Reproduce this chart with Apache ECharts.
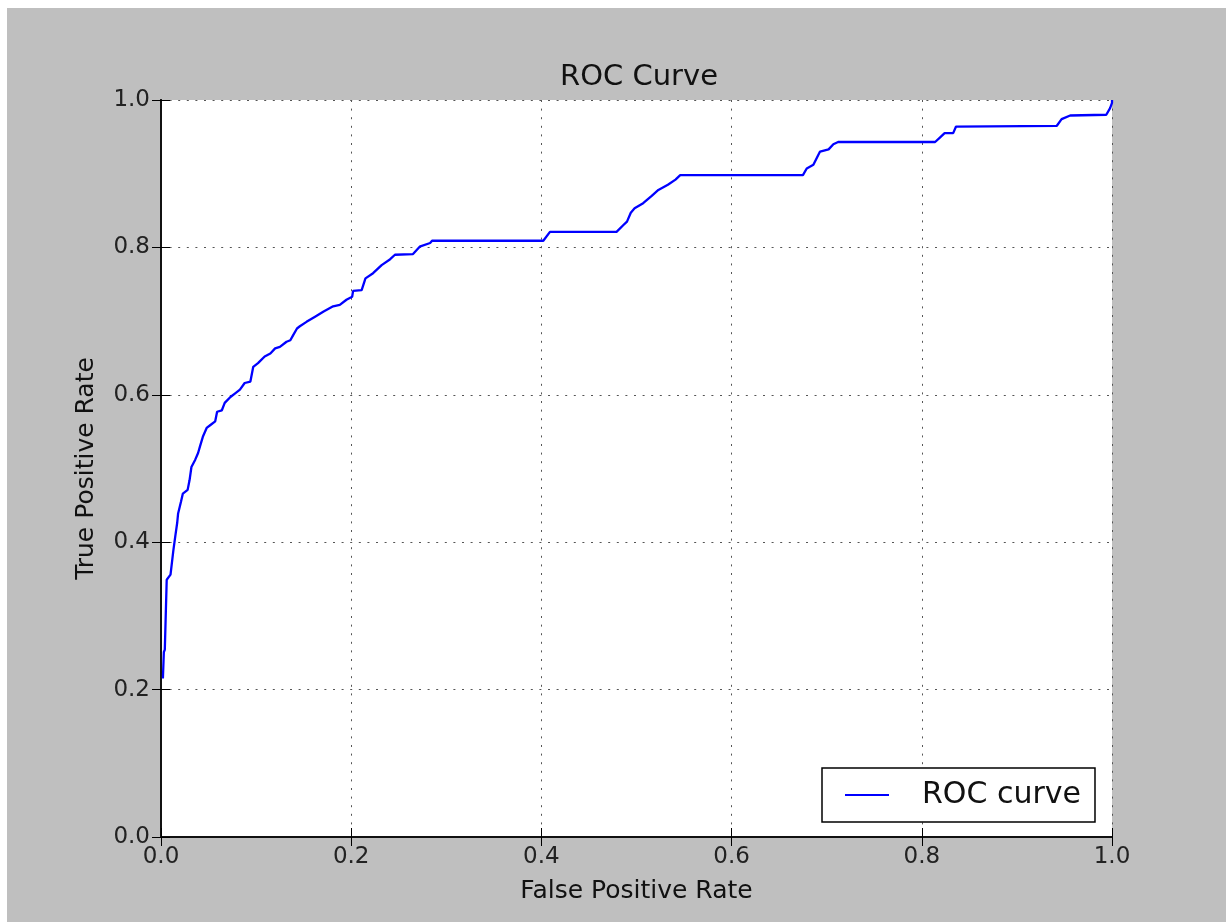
<!DOCTYPE html>
<html>
<head>
<meta charset="utf-8">
<script src="https://cdn.jsdelivr.net/npm/echarts@6/dist/echarts.min.js"></script>
<style>
  html, body { margin: 0; padding: 0; background: #fff; }
  #chart {
    width: 1226px; height: 922px;
    background: linear-gradient(#bfbfbf, #bfbfbf) 7px 8px / 100% 100% no-repeat, #fff;
  }
</style>
</head>
<body>
<div id="chart"></div>
<script>
// False positive rate (x) and true positive rate (y) of the ROC curve
const fpr = [0.002, 0.003, 0.004, 0.006, 0.010, 0.011, 0.013, 0.015, 0.017, 0.018,
  0.021, 0.023, 0.028, 0.030, 0.032, 0.036, 0.039, 0.041, 0.044, 0.048,
  0.052, 0.057, 0.059, 0.064, 0.067, 0.073, 0.078, 0.083, 0.088, 0.094,
  0.097, 0.102, 0.109, 0.115, 0.120, 0.125, 0.132, 0.136, 0.139, 0.143,
  0.146, 0.153, 0.162, 0.171, 0.181, 0.188, 0.195, 0.201, 0.202, 0.211,
  0.215, 0.216, 0.223, 0.232, 0.241, 0.246, 0.265, 0.272, 0.283, 0.285,
  0.402, 0.409, 0.479, 0.486, 0.490, 0.494, 0.498, 0.507, 0.516, 0.523,
  0.533, 0.541, 0.546, 0.675, 0.679, 0.686, 0.691, 0.693, 0.702, 0.707,
  0.712, 0.814, 0.819, 0.824, 0.833, 0.836, 0.942, 0.947, 0.956, 0.994,
  0.998, 1.000, 1.000];
const tpr = [0.215, 0.251, 0.254, 0.349, 0.356, 0.367, 0.389, 0.408, 0.426, 0.439,
  0.455, 0.466, 0.471, 0.484, 0.502, 0.512, 0.521, 0.530, 0.543, 0.555,
  0.559, 0.564, 0.577, 0.579, 0.589, 0.597, 0.602, 0.607, 0.616, 0.618,
  0.638, 0.643, 0.652, 0.656, 0.663, 0.665, 0.672, 0.674, 0.681, 0.690,
  0.693, 0.699, 0.706, 0.713, 0.720, 0.722, 0.729, 0.733, 0.741, 0.742,
  0.758, 0.760, 0.765, 0.776, 0.784, 0.790, 0.791, 0.801, 0.806, 0.809,
  0.809, 0.821, 0.821, 0.830, 0.835, 0.847, 0.853, 0.860, 0.870, 0.878,
  0.885, 0.892, 0.898, 0.898, 0.907, 0.912, 0.925, 0.930, 0.933, 0.940,
  0.943, 0.943, 0.949, 0.955, 0.955, 0.964, 0.965, 0.974, 0.979, 0.980,
  0.989, 0.996, 1.000];
const seriesName = 'ROC curve';
const titleText = 'ROC Curve';
const xName = 'False Positive Rate';
const yName = 'True Positive Rate';
const axisMin = 0, axisMax = 1, axisStep = 0.2;

const FONT = 'DejaVu Sans';
const chart = echarts.init(document.getElementById('chart'), null, { renderer: 'canvas' });

const tick = { show: true, inside: true, length: 9, lineStyle: { color: '#000', width: 1 } };
const line = { show: true, lineStyle: { color: '#111', width: 2 } };
const grid = { show: true, lineStyle: { color: '#555', width: 1, type: [2, 6.6] } };
const lbl = { color: '#222', fontSize: 23, fontFamily: FONT, formatter: v => v.toFixed(1),
  showMinLabel: true, showMaxLabel: true };

const base = { type: 'value', min: axisMin, max: axisMax, interval: axisStep };

chart.setOption({
  animation: false,
  backgroundColor: 'transparent',
  title: {
    text: titleText, left: 555, top: 58,
    textStyle: { fontFamily: FONT, fontSize: 29, fontWeight: 'normal', color: '#111' }
  },
  grid: { left: 161, top: 100, width: 951, height: 737, show: true,
    backgroundColor: '#fff', borderWidth: 0, containLabel: false },
  legend: {
    left: 822, top: 768, orient: 'horizontal',
    itemWidth: 44, itemHeight: 2,
    padding: [12, 14, 12, 23],
    backgroundColor: '#fff', borderColor: '#000', borderWidth: 1.5, borderRadius: 0,
    textStyle: { fontFamily: FONT, fontSize: 30, color: '#111', padding: [0, 0, 0, 28] },
    data: [{ name: seriesName, icon: 'rect' }]
  },
  xAxis: [
    Object.assign({}, base, {
      position: 'bottom', name: xName, nameLocation: 'middle', nameGap: 42,
      nameTextStyle: { fontFamily: FONT, fontSize: 25, color: '#111' },
      axisLine: line, axisTick: tick, splitLine: grid,
      axisLabel: Object.assign({ margin: 9 }, lbl)
    }),
    Object.assign({}, base, {
      position: 'top', axisLine: line, axisTick: tick,
      splitLine: { show: false }, axisLabel: { show: false }
    })
  ],
  yAxis: [
    Object.assign({}, base, {
      position: 'left', name: yName, nameLocation: 'middle', nameGap: 62,
      nameTextStyle: { fontFamily: FONT, fontSize: 25, color: '#111' },
      axisLine: line, axisTick: tick, splitLine: grid,
      axisLabel: Object.assign({ margin: 11 }, lbl)
    }),
    Object.assign({}, base, {
      position: 'right', axisLine: line, axisTick: tick,
      splitLine: { show: false }, axisLabel: { show: false }
    })
  ],
  series: [{
    name: seriesName, type: 'line', xAxisIndex: 0, yAxisIndex: 0,
    data: fpr.map((x, i) => [x, tpr[i]]),
    symbol: 'none', showSymbol: false, smooth: false,
    lineStyle: { color: '#0000ff', width: 2.3 },
    itemStyle: { color: '#0000ff' }
  }]
});
</script>
</body>
</html>
